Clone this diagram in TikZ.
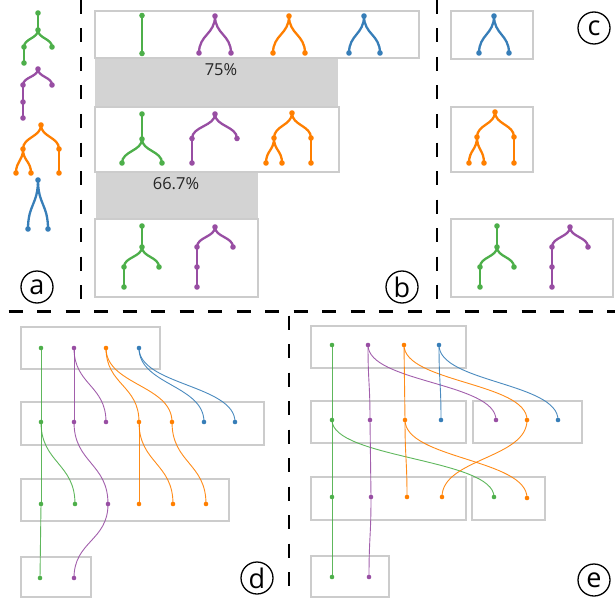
\documentclass[tikz,border=0pt]{standalone}
\usepackage{fontspec}
\setmainfont{Open Sans}
\usetikzlibrary{calc}
\definecolor{sgreen}{HTML}{4DAF4A}
\definecolor{spurple}{HTML}{984EA3}
\definecolor{sorange}{HTML}{FF7F00}
\definecolor{sblue}{HTML}{377EB8}
\definecolor{framegray}{HTML}{CCCCCC}
\definecolor{bargray}{HTML}{D3D3D3}
\pgfdeclarelayer{back}
\pgfdeclarelayer{lines}
\pgfsetlayers{back,lines,main}

% vertical S-shaped link between a parent and a child point
\newcommand\vlink[4]{%
  \begin{pgfonlayer}{lines}
  \draw[#1,#2] let \p1=(#3.center), \p2=(#4.center) in
    (#3.center) .. controls (\x1,{0.5*\y1+0.5*\y2})
      and (\x2,{0.5*\y1+0.5*\y2}) .. (#4.center);
  \end{pgfonlayer}}
\newcommand\tlink[3]{\vlink{tedge}{#1}{#2}{#3}}
\newcommand\slink[3]{\vlink{ledge}{#1}{#2}{#3}}
\newcommand\tdotat[3]{\node[tdot,fill=#1] (#2) at (#3) {};}
\newcommand\ldotat[3]{\node[ldot,fill=#1] (#2) at (#3) {};}

\tikzset{
  panelbox/.style={draw=framegray, line width=2.5pt},
  simbar/.style={fill=bargray, draw=none},
  divider/.style={draw=black, line width=2.3pt, dash pattern=on 14pt off 14.5pt},
  tdot/.style={circle, inner sep=0pt, minimum size=5.6pt, draw=none},
  ldot/.style={circle, inner sep=0pt, minimum size=4.6pt, draw=none},
  tedge/.style={line width=2.3pt},
  ledge/.style={line width=0.9pt, opacity=0.9},
  panelmark/.style={circle, draw=black, line width=1.3pt, minimum size=32pt,
    inner sep=0pt, font=\fontsize{27}{27}\selectfont},
  pct/.style={font=\fontsize{16.5}{16.5}\selectfont, text=black!85}
}

\begin{document}
\begin{tikzpicture}[x=1pt, y=-1pt]
\useasboundingbox (0,0) rectangle (615,599);

% ---------- dividers ----------
\draw[divider] (81,0) -- (81,311);
\draw[divider] (437,0) -- (437,311);
\draw[divider, dash phase=20] (0,311.5) -- (615,311.5);
\draw[divider, dash phase=24.5] (289,311.5) -- (289,599);

% ---------- panel a ----------
\tdotat{sgreen}{ag1}{38,13}
\tdotat{sgreen}{ag2}{38,30}
\tdotat{sgreen}{ag3}{24,47}
\tdotat{sgreen}{ag4}{52,47}
\tdotat{sgreen}{ag5}{24,63}
\tlink{sgreen}{ag1}{ag2}\tlink{sgreen}{ag2}{ag3}\tlink{sgreen}{ag2}{ag4}\tlink{sgreen}{ag3}{ag5}

\tdotat{spurple}{ap1}{38,69}
\tdotat{spurple}{ap2}{23,85}
\tdotat{spurple}{ap3}{52,85}
\tdotat{spurple}{ap4}{23,102}
\tdotat{spurple}{ap5}{23,118}
\tlink{spurple}{ap1}{ap2}\tlink{spurple}{ap1}{ap3}\tlink{spurple}{ap2}{ap4}\tlink{spurple}{ap4}{ap5}

\tdotat{sorange}{ao1}{41,125}
\tdotat{sorange}{ao2}{23,149}
\tdotat{sorange}{ao3}{59,149}
\tdotat{sorange}{ao4}{16,173}
\tdotat{sorange}{ao5}{31,173}
\tdotat{sorange}{ao6}{59,173}
\tlink{sorange}{ao1}{ao2}\tlink{sorange}{ao1}{ao3}\tlink{sorange}{ao2}{ao4}\tlink{sorange}{ao2}{ao5}\tlink{sorange}{ao3}{ao6}

\tdotat{sblue}{ab1}{38,180}
\tdotat{sblue}{ab2}{28,229}
\tdotat{sblue}{ab3}{48,229}
\tlink{sblue}{ab1}{ab2}\tlink{sblue}{ab1}{ab3}

\node[panelmark] (markA) at (37,287) {a};

% ---------- panel b ----------
\begin{pgfonlayer}{back}
\fill[simbar] (95,58) rectangle (338,107);
\fill[simbar] (96,172) rectangle (258,219);
\draw[panelbox] (95,11) rectangle (419,58);
\draw[panelbox] (95,107) rectangle (339,172);
\draw[panelbox] (95,219) rectangle (258,297);
\end{pgfonlayer}
\node[pct] (pctA) at (221,70) {75\%};
\node[pct] (pctB) at (176,183.5) {66.7\%};

% row 1
\tdotat{sgreen}{b1g1}{142,15.5}
\tdotat{sgreen}{b1g2}{142,53.5}
\tlink{sgreen}{b1g1}{b1g2}
\tdotat{spurple}{b1p1}{215,16}
\tdotat{spurple}{b1p2}{199,53}
\tdotat{spurple}{b1p3}{231,53}
\tlink{spurple}{b1p1}{b1p2}\tlink{spurple}{b1p1}{b1p3}
\tdotat{sorange}{b1o1}{289,16}
\tdotat{sorange}{b1o2}{273,53}
\tdotat{sorange}{b1o3}{305,53}
\tlink{sorange}{b1o1}{b1o2}\tlink{sorange}{b1o1}{b1o3}
\tdotat{sblue}{b1b1}{364,16}
\tdotat{sblue}{b1b2}{349,53}
\tdotat{sblue}{b1b3}{380,53}
\tlink{sblue}{b1b1}{b1b2}\tlink{sblue}{b1b1}{b1b3}

% row 2
\tdotat{sgreen}{b2g1}{142,114}
\tdotat{sgreen}{b2g2}{142,139}
\tdotat{sgreen}{b2g3}{122,163}
\tdotat{sgreen}{b2g4}{162,163}
\tlink{sgreen}{b2g1}{b2g2}\tlink{sgreen}{b2g2}{b2g3}\tlink{sgreen}{b2g2}{b2g4}
\tdotat{spurple}{b2p1}{215,114}
\tdotat{spurple}{b2p2}{192,138.5}
\tdotat{spurple}{b2p3}{237,138.5}
\tdotat{spurple}{b2p4}{192,163}
\tlink{spurple}{b2p1}{b2p2}\tlink{spurple}{b2p1}{b2p3}\tlink{spurple}{b2p2}{b2p4}
\tdotat{sorange}{b2o1}{292,113}
\tdotat{sorange}{b2o2}{274,138}
\tdotat{sorange}{b2o3}{311,138}
\tdotat{sorange}{b2o4}{266,163}
\tdotat{sorange}{b2o5}{282,163}
\tdotat{sorange}{b2o6}{311,163}
\tlink{sorange}{b2o1}{b2o2}\tlink{sorange}{b2o1}{b2o3}\tlink{sorange}{b2o2}{b2o4}\tlink{sorange}{b2o2}{b2o5}\tlink{sorange}{b2o3}{b2o6}

% row 3
\tdotat{sgreen}{b3g1}{142,226}
\tdotat{sgreen}{b3g2}{142,247}
\tdotat{sgreen}{b3g3}{124,267}
\tdotat{sgreen}{b3g4}{159,267}
\tdotat{sgreen}{b3g5}{124,287}
\tlink{sgreen}{b3g1}{b3g2}\tlink{sgreen}{b3g2}{b3g3}\tlink{sgreen}{b3g2}{b3g4}\tlink{sgreen}{b3g3}{b3g5}
\tdotat{spurple}{b3p1}{215,227}
\tdotat{spurple}{b3p2}{197,247}
\tdotat{spurple}{b3p3}{233,247}
\tdotat{spurple}{b3p4}{197,267}
\tdotat{spurple}{b3p5}{197,287}
\tlink{spurple}{b3p1}{b3p2}\tlink{spurple}{b3p1}{b3p3}\tlink{spurple}{b3p2}{b3p4}\tlink{spurple}{b3p4}{b3p5}

\node[panelmark] (markB) at (402,287) {b};

% ---------- panel c ----------
\begin{pgfonlayer}{back}
\draw[panelbox] (451,11) rectangle (533,59);
\draw[panelbox] (451,107) rectangle (533,172);
\draw[panelbox] (451,219) rectangle (613,297);
\end{pgfonlayer}
\tdotat{sblue}{c1b1}{494,16}
\tdotat{sblue}{c1b2}{479,53}
\tdotat{sblue}{c1b3}{509,53}
\tlink{sblue}{c1b1}{c1b2}\tlink{sblue}{c1b1}{c1b3}

\tdotat{sorange}{c2o1}{495,112}
\tdotat{sorange}{c2o2}{477,137}
\tdotat{sorange}{c2o3}{514,137}
\tdotat{sorange}{c2o4}{469,163}
\tdotat{sorange}{c2o5}{484,163}
\tdotat{sorange}{c2o6}{514,163}
\tlink{sorange}{c2o1}{c2o2}\tlink{sorange}{c2o1}{c2o3}\tlink{sorange}{c2o2}{c2o4}\tlink{sorange}{c2o2}{c2o5}\tlink{sorange}{c2o3}{c2o6}

\tdotat{sgreen}{c3g1}{497,226}
\tdotat{sgreen}{c3g2}{497,247}
\tdotat{sgreen}{c3g3}{480,267}
\tdotat{sgreen}{c3g4}{514,267}
\tdotat{sgreen}{c3g5}{480,287}
\tlink{sgreen}{c3g1}{c3g2}\tlink{sgreen}{c3g2}{c3g3}\tlink{sgreen}{c3g2}{c3g4}\tlink{sgreen}{c3g3}{c3g5}
\tdotat{spurple}{c3p1}{570,227}
\tdotat{spurple}{c3p2}{552,247}
\tdotat{spurple}{c3p3}{588,247}
\tdotat{spurple}{c3p4}{552,267}
\tdotat{spurple}{c3p5}{552,287}
\tlink{spurple}{c3p1}{c3p2}\tlink{spurple}{c3p1}{c3p3}\tlink{spurple}{c3p2}{c3p4}\tlink{spurple}{c3p4}{c3p5}

\node[panelmark] (markC) at (594,28) {c};

% ---------- panel d ----------
\begin{pgfonlayer}{back}
\draw[panelbox] (21,327) rectangle (160,369);
\draw[panelbox] (21,402) rectangle (264,445);
\draw[panelbox] (21,479) rectangle (229,521);
\draw[panelbox] (21,557) rectangle (91,597);
\end{pgfonlayer}
\ldotat{sgreen}{d1g}{41,348}
\ldotat{spurple}{d1p}{74,348}
\ldotat{sorange}{d1o}{106,348}
\ldotat{sblue}{d1b}{139,348}

\ldotat{sgreen}{d2g}{41,422}
\ldotat{spurple}{d2p}{74,422}
\ldotat{spurple}{d2q}{106,422}
\ldotat{sorange}{d2o}{139,422}
\ldotat{sorange}{d2r}{172,422}
\ldotat{sblue}{d2b}{204,422}
\ldotat{sblue}{d2c}{235,422}

\ldotat{sgreen}{d3g}{41,504}
\ldotat{sgreen}{d3h}{75,504}
\ldotat{spurple}{d3p}{108,504}
\ldotat{sorange}{d3o}{139,504}
\ldotat{sorange}{d3r}{173,504}
\ldotat{sorange}{d3s}{206,504}

\ldotat{sgreen}{d4g}{40,578}
\ldotat{spurple}{d4p}{74,578}

\slink{sgreen}{d1g}{d2g}
\slink{spurple}{d1p}{d2p}\slink{spurple}{d1p}{d2q}
\slink{sorange}{d1o}{d2o}\slink{sorange}{d1o}{d2r}
\slink{sblue}{d1b}{d2b}\slink{sblue}{d1b}{d2c}
\slink{sgreen}{d2g}{d3g}\slink{sgreen}{d2g}{d3h}
\slink{spurple}{d2p}{d3p}
\slink{sorange}{d2o}{d3o}\slink{sorange}{d2o}{d3r}\slink{sorange}{d2r}{d3s}
\slink{sgreen}{d3g}{d4g}
\slink{spurple}{d3p}{d4p}

\node[panelmark] (markD) at (257,578) {d};

% ---------- panel e ----------
\begin{pgfonlayer}{back}
\draw[panelbox] (311,326) rectangle (466,368);
\draw[panelbox] (311,401) rectangle (466,443);
\draw[panelbox] (473,401) rectangle (582,443);
\draw[panelbox] (311,477) rectangle (466,520);
\draw[panelbox] (472,477) rectangle (545,520);
\draw[panelbox] (311,556) rectangle (389,597);
\end{pgfonlayer}
\ldotat{sgreen}{e1g}{332,345}
\ldotat{spurple}{e1p}{368,345}
\ldotat{sorange}{e1o}{404,345}
\ldotat{sblue}{e1b}{439,345}

\ldotat{sgreen}{e2g}{332,420}
\ldotat{spurple}{e2p}{370,420}
\ldotat{sorange}{e2o}{405,420}
\ldotat{sblue}{e2b}{441,420}
\ldotat{spurple}{e2q}{496,420}
\ldotat{sorange}{e2r}{527,420}
\ldotat{sblue}{e2c}{558,420}

\ldotat{sgreen}{e3g}{332,497}
\ldotat{spurple}{e3p}{371,497}
\ldotat{sorange}{e3o}{407,497}
\ldotat{sorange}{e3r}{442,497}
\ldotat{sgreen}{e3h}{494,497}
\ldotat{sorange}{e3s}{527,498}

\ldotat{sgreen}{e4g}{332,577}
\ldotat{spurple}{e4p}{369,577}

\slink{sgreen}{e1g}{e2g}
\slink{spurple}{e1p}{e2p}\slink{spurple}{e1p}{e2q}
\slink{sorange}{e1o}{e2o}\slink{sorange}{e1o}{e2r}
\slink{sblue}{e1b}{e2b}\slink{sblue}{e1b}{e2c}
\slink{sgreen}{e2g}{e3g}\slink{sgreen}{e2g}{e3h}
\slink{spurple}{e2p}{e3p}
\slink{sorange}{e2o}{e3o}\slink{sorange}{e2o}{e3s}\slink{sorange}{e2r}{e3r}
\slink{sgreen}{e3g}{e4g}
\slink{spurple}{e3p}{e4p}

\node[panelmark] (markE) at (594,580) {e};
\end{tikzpicture}
\end{document}
